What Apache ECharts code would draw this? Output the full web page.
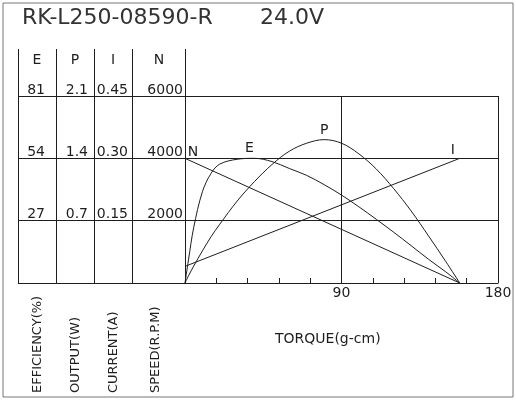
<!DOCTYPE html>
<html>
<head>
<meta charset="utf-8">
<script src="https://cdn.jsdelivr.net/npm/echarts@6/dist/echarts.min.js"></script>
<style>
html, body { margin: 0; padding: 0; background: #fff; }
#chart { width: 516px; height: 400px; }
</style>
</head>
<body>
<div id="chart"></div>
<script>
// values
var torque     = [0, 2, 5, 10, 15, 20, 30, 40, 50, 60, 70, 80, 90, 100, 110, 120, 130, 140, 150, 158];
var efficiency = [0, 10, 24, 39.5, 47.5, 51.5, 53.6, 54, 52.6, 49.6, 46.6, 42.6, 38.1, 33, 27.6, 22, 16.2, 10.3, 4.8, 0];
var output     = [0, 0.08, 0.19, 0.36, 0.52, 0.66, 0.92, 1.14, 1.33, 1.48, 1.57, 1.61, 1.57, 1.45, 1.28, 1.06, 0.81, 0.53, 0.24, 0];

var lineTorque = [0, 158];
var speed      = [4000, 0];
var current    = [0.04, 0.30];

var speedTicks   = [2000, 4000, 6000];
var currentTicks = [0.15, 0.30, 0.45];
var outputTicks  = [0.7, 1.4, 2.1];
var effTicks     = [27, 54, 81];
var torqueTicks  = [90, 180];

var ink = '#1e1e1e';
var font = 'DejaVu Sans';

function pairs(xs, ys) {
	return xs.map(function (x, i) { return [x, ys[i]]; });
}

function tagPoint(coord, text, offset) {
	return {
		symbol: 'circle',
		symbolSize: 1,
		itemStyle: { color: 'transparent' },
		label: {
			show: true, position: 'inside', formatter: text, offset: offset,
			color: ink, fontFamily: font, fontSize: 14
		},
		data: [{ coord: coord }]
	};
}

function labelAxis(max, interval, ticks, offset, margin, digits) {
	return {
		type: 'value', gridIndex: 0, position: 'left', offset: offset,
		min: 0, max: max, interval: interval,
		axisLine: { show: true, onZero: false, lineStyle: { color: ink, width: 1 } },
		axisTick: { show: false },
		splitLine: { show: false },
		axisLabel: {
			show: true, customValues: ticks, margin: margin, verticalAlign: 'bottom',
			padding: [0, 0, -1, 0],
			color: ink, fontFamily: font, fontSize: 14,
			formatter: function (v) { return v.toFixed(digits); }
		}
	};
}

var chart = echarts.init(document.getElementById('chart'));

chart.setOption({
	animation: false,
	backgroundColor: '#fff',
	textStyle: { fontFamily: font },
	grid: [
		{ left: 185, right: 18, top: 96, bottom: 117, outerBoundsMode: 'none' },
		{ left: 18, right: 331, top: 96, bottom: 117, outerBoundsMode: 'none' }
	],
	xAxis: [
		{
			type: 'value', gridIndex: 0, min: 0, max: 180, interval: 18,
			axisLine: { show: true, onZero: false, lineStyle: { color: ink, width: 1 } },
			axisTick: { show: false },
			axisLabel: { customValues: torqueTicks, margin: 3, color: ink, fontFamily: font, fontSize: 14 },
			splitLine: { show: false }
		},
		{
			type: 'value', gridIndex: 0, min: 0, max: 180, interval: 90, position: 'top',
			axisLine: { show: false, onZero: false }, axisTick: { show: false }, axisLabel: { show: false },
			splitLine: { show: true, showMinLine: false, lineStyle: { color: ink, width: 1 } }
		},
		{ type: 'value', gridIndex: 1, min: 0, max: 1, show: false },
		{
			type: 'value', gridIndex: 0, min: 0, max: 180, interval: 18, position: 'bottom',
			axisLine: { show: false, onZero: false },
			axisTick: { show: true, inside: true, length: 5, lineStyle: { color: ink, width: 1 } },
			axisLabel: { show: false }, splitLine: { show: false }
		}
	],
	yAxis: [
		labelAxis(6000, 2000, speedTicks, 0, 2, 0),
		labelAxis(0.45, 0.15, currentTicks, 53, 4, 2),
		labelAxis(2.1, 0.7, outputTicks, 91, 6, 1),
		labelAxis(81, 27, effTicks, 129, 11, 0),
		{
			type: 'value', gridIndex: 0, position: 'left', offset: 167, min: 0, max: 1,
			axisLine: { show: true, onZero: false, lineStyle: { color: ink, width: 1 } },
			axisTick: { show: false }, axisLabel: { show: false }, splitLine: { show: false }
		},
		{
			type: 'value', gridIndex: 1, min: 0, max: 6000, interval: 2000,
			axisLine: { show: false, onZero: false }, axisTick: { show: false }, axisLabel: { show: false },
			splitLine: { show: true, lineStyle: { color: ink, width: 1 } }
		},
		{
			type: 'value', gridIndex: 0, min: 0, max: 6000, interval: 2000, position: 'right',
			axisLine: { show: false, onZero: false }, axisTick: { show: false }, axisLabel: { show: false },
			splitLine: { show: true, lineStyle: { color: ink, width: 1 } }
		}
	],
	series: [
		{
			name: 'N', type: 'line', xAxisIndex: 0, yAxisIndex: 0,
			data: pairs(lineTorque, speed), symbol: 'none',
			lineStyle: { color: ink, width: 1 },
			markPoint: tagPoint([0, 4000], 'N', [8, -6])
		},
		{
			name: 'I', type: 'line', xAxisIndex: 0, yAxisIndex: 1,
			data: pairs(lineTorque, current), symbol: 'none',
			lineStyle: { color: ink, width: 1 },
			markPoint: tagPoint([158, 0.30], 'I', [-7, -8])
		},
		{
			name: 'P', type: 'line', xAxisIndex: 0, yAxisIndex: 2,
			data: pairs(torque, output), symbol: 'none', smooth: 0.35,
			lineStyle: { color: ink, width: 1 },
			markPoint: tagPoint([80, 1.61], 'P', [0, -9])
		},
		{
			name: 'E', type: 'line', xAxisIndex: 0, yAxisIndex: 3,
			data: pairs(torque, efficiency), symbol: 'none', smooth: 0.35,
			lineStyle: { color: ink, width: 1 },
			markPoint: tagPoint([37, 54], 'E', [0, -10])
		}
	],
	graphic: [
		{ type: 'rect', shape: { x: 3, y: 3, width: 510, height: 394 }, style: { fill: null, stroke: '#777', lineWidth: 1 } },
		{ type: 'line', shape: { x1: 18.5, y1: 49, x2: 18.5, y2: 96 }, style: { stroke: ink, lineWidth: 1 } },
		{ type: 'line', shape: { x1: 56.5, y1: 49, x2: 56.5, y2: 96 }, style: { stroke: ink, lineWidth: 1 } },
		{ type: 'line', shape: { x1: 94.5, y1: 49, x2: 94.5, y2: 96 }, style: { stroke: ink, lineWidth: 1 } },
		{ type: 'line', shape: { x1: 132.5, y1: 49, x2: 132.5, y2: 96 }, style: { stroke: ink, lineWidth: 1 } },
		{ type: 'line', shape: { x1: 185.5, y1: 49, x2: 185.5, y2: 96 }, style: { stroke: ink, lineWidth: 1 } },
		{ type: 'text', x: 22, y: 18, style: { text: 'RK-L250-08590-R', font: '22px DejaVu Sans', fill: '#333', verticalAlign: 'middle' } },
		{ type: 'text', x: 260, y: 18, style: { text: '24.0V', font: '22px DejaVu Sans', fill: '#333', verticalAlign: 'middle' } },
		{ type: 'text', x: 37, y: 60, style: { text: 'E', font: '14px DejaVu Sans', fill: ink, align: 'center', verticalAlign: 'middle' } },
		{ type: 'text', x: 75, y: 60, style: { text: 'P', font: '14px DejaVu Sans', fill: ink, align: 'center', verticalAlign: 'middle' } },
		{ type: 'text', x: 113, y: 60, style: { text: 'I', font: '14px DejaVu Sans', fill: ink, align: 'center', verticalAlign: 'middle' } },
		{ type: 'text', x: 159, y: 60, style: { text: 'N', font: '14px DejaVu Sans', fill: ink, align: 'center', verticalAlign: 'middle' } },
		{ type: 'text', x: 38, y: 393, rotation: Math.PI / 2, style: { text: 'EFFICIENCY(%)', font: '13px DejaVu Sans', fill: ink, align: 'left', verticalAlign: 'middle' } },
		{ type: 'text', x: 76, y: 393, rotation: Math.PI / 2, style: { text: 'OUTPUT(W)', font: '13px DejaVu Sans', fill: ink, align: 'left', verticalAlign: 'middle' } },
		{ type: 'text', x: 114, y: 393, rotation: Math.PI / 2, style: { text: 'CURRENT(A)', font: '13px DejaVu Sans', fill: ink, align: 'left', verticalAlign: 'middle' } },
		{ type: 'text', x: 156, y: 393, rotation: Math.PI / 2, style: { text: 'SPEED(R.P.M)', font: '13px DejaVu Sans', fill: ink, align: 'left', verticalAlign: 'middle' } },
		{ type: 'text', x: 275, y: 339, style: { text: 'TORQUE(g-cm)', font: '14px DejaVu Sans', fill: ink, align: 'left', verticalAlign: 'middle' } }
	]
});
</script>
</body>
</html>
